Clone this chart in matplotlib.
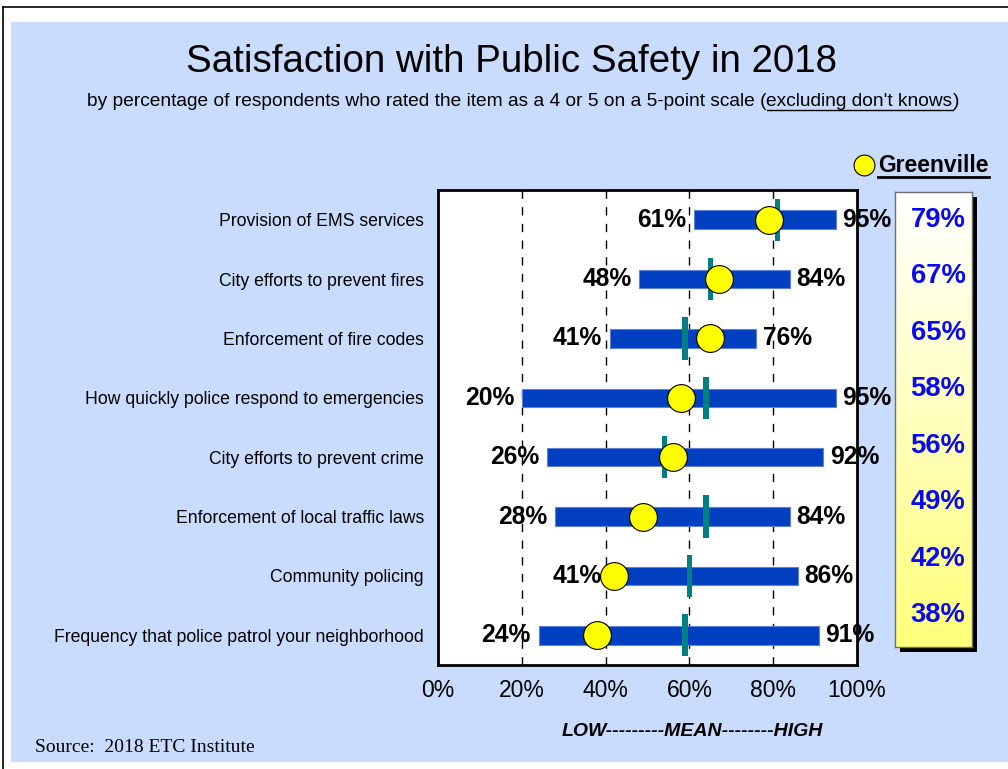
import numpy as np
import matplotlib
matplotlib.use("Agg")
import matplotlib.pyplot as plt
from matplotlib.patches import Rectangle

# Survey items, top to bottom
items = [
    "Provision of EMS services",
    "City efforts to prevent fires",
    "Enforcement of fire codes",
    "How quickly police respond to emergencies",
    "City efforts to prevent crime",
    "Enforcement of local traffic laws",
    "Community policing",
    "Frequency that police patrol your neighborhood",
]
low = [61, 48, 41, 20, 26, 28, 41, 24]
high = [95, 84, 76, 95, 92, 84, 86, 91]
mean = [81, 65, 59, 64, 54, 64, 60, 59]
greenville = [79, 67, 65, 58, 56, 49, 42, 38]
xticks = [0, 20, 40, 60, 80, 100]

W, H = 1008, 769
SANS = "Liberation Sans"
BLUE_BG = "#C9DCFD"
BAR = "#0040C0"
TEAL = "#008080"

fig = plt.figure(figsize=(W / 100, H / 100), dpi=100)
fig.patch.set_facecolor("white")

# pixel canvas for the frame and decorations
bg = fig.add_axes([0, 0, 1, 1], zorder=0)
bg.set_xlim(0, W)
bg.set_ylim(H, 0)
bg.axis("off")
bg.plot([3, 3], [7, H + 5], color="black", lw=1.2)
bg.plot([3, W + 5], [7, 7], color="black", lw=1.2)
bg.add_patch(Rectangle((11, 22), W, 740, facecolor=BLUE_BG, edgecolor="none"))

fig.text(511 / W, 1 - 62 / H, "Satisfaction with Public Safety in 2018",
         ha="center", va="center", fontsize=27.7, family=SANS)
sub1 = "by percentage of respondents who rated the item as a 4 or 5 on a 5-point scale ("
sub2 = "excluding don't knows"
sub3 = ")"
t = bg.text(87, 101, sub1, ha="left", va="center", fontsize=13.8, family=SANS)
fig.canvas.draw()
r = fig.canvas.get_renderer()
bb = t.get_window_extent(r)
t2 = fig.text(bb.x1 / W, 1 - 101 / H, sub2, ha="left", va="center", fontsize=13.8, family=SANS)
bb2 = t2.get_window_extent(r)
fig.text(bb2.x1 / W, 1 - 101 / H, sub3, ha="left", va="center", fontsize=13.8, family=SANS)
bg.plot([bb2.x0, bb2.x1], [110, 110], color="black", lw=1)

# legend marker and series name
bg.scatter([864], [165], s=225, color="#FFFF00", edgecolors="black", linewidths=0.8, zorder=3)
gt = bg.text(878, 165, "Greenville", ha="left", va="center", fontsize=16.5,
             fontweight="bold", family=SANS)
gbb = gt.get_window_extent(r)
bg.plot([gbb.x0, gbb.x1], [177, 177], color="black", lw=2)

bg.text(692, 732, "LOW---------MEAN--------HIGH", ha="center", va="center",
        fontsize=14, fontweight="bold", fontstyle="italic", family=SANS)
bg.text(35, 747, "Source:  2018 ETC Institute", ha="left", va="center",
        fontsize=14, family="Liberation Serif")

# main range chart
ax = fig.add_axes([438 / W, 1 - 665 / H, (857 - 438) / W, (665 - 190) / H], zorder=2)
ax.set_facecolor("white")
y = np.arange(len(items))
ax.set_xlim(0, 100)
ax.set_ylim(len(items) - 0.5, -0.5)
for gx in xticks[1:-1]:
    ax.axvline(gx, color="black", lw=1, ls=(0, (6, 6)), zorder=1)
ax.barh(y, np.array(high) - np.array(low), left=low, height=0.31, color=BAR,
        edgecolor="#6080D8", linewidth=0.8, zorder=2)
ax.barh(y, 1.3, left=np.array(mean) - 0.65, height=0.71, color=TEAL, zorder=3)
ax.scatter(greenville, y, s=400, color="#FFFF00", edgecolors="black",
           linewidths=0.8, zorder=4)
for i in range(len(items)):
    ax.annotate(f"{low[i]}%", (low[i], y[i]), xytext=(-5.5, 0), textcoords="offset points",
                ha="right", va="center", fontsize=17.7, fontweight="bold", family=SANS,
                zorder=5, annotation_clip=False)
    ax.annotate(f"{high[i]}%", (high[i], y[i]), xytext=(4.5, 0), textcoords="offset points",
                ha="left", va="center", fontsize=17.7, fontweight="bold", family=SANS,
                zorder=5, annotation_clip=False)
ax.set_xticks(xticks)
ax.set_xticklabels([f"{v}%" for v in xticks], fontsize=16.5, family=SANS)
ax.set_yticks(y)
ax.set_yticklabels(items, fontsize=12.7, family=SANS)
ax.tick_params(length=0, axis="x", pad=10)
ax.tick_params(length=0, axis="y", pad=10)
for s in ax.spines.values():
    s.set_linewidth(2)
    s.set_color("black")

# Greenville value column with shadow and gradient fill
bg.add_patch(Rectangle((900, 197), 77, 455, facecolor="black", edgecolor="none", zorder=1))
bx = fig.add_axes([895 / W, 1 - 647 / H, 77 / W, 455 / H], zorder=3)
grad = np.linspace(0, 1, 256)[:, None]
col = np.zeros((256, 1, 3))
col[..., 0] = 1.0
col[..., 1] = 1.0
col[..., 2] = 1.0 - 0.52 * grad
bx.imshow(col, aspect="auto", extent=(0, 1, 1, 0))
bx.set_xlim(0, 1)
bx.set_ylim(1, 0)
bx.set_xticks([])
bx.set_yticks([])
for s in bx.spines.values():
    s.set_color("#707070")
    s.set_linewidth(1)

ov = fig.add_axes([0, 0, 1, 1], zorder=4)
ov.set_xlim(0, W)
ov.set_ylim(H, 0)
ov.axis("off")
val_y = np.linspace(220, 615, len(greenville))
for v, yy in zip(greenville, val_y):
    ov.text(938, yy, f"{v}%", ha="center", va="center", fontsize=19.7,
            fontweight="bold", color="#0A0AF0", family=SANS)

fig.savefig("out.png", dpi=100)
